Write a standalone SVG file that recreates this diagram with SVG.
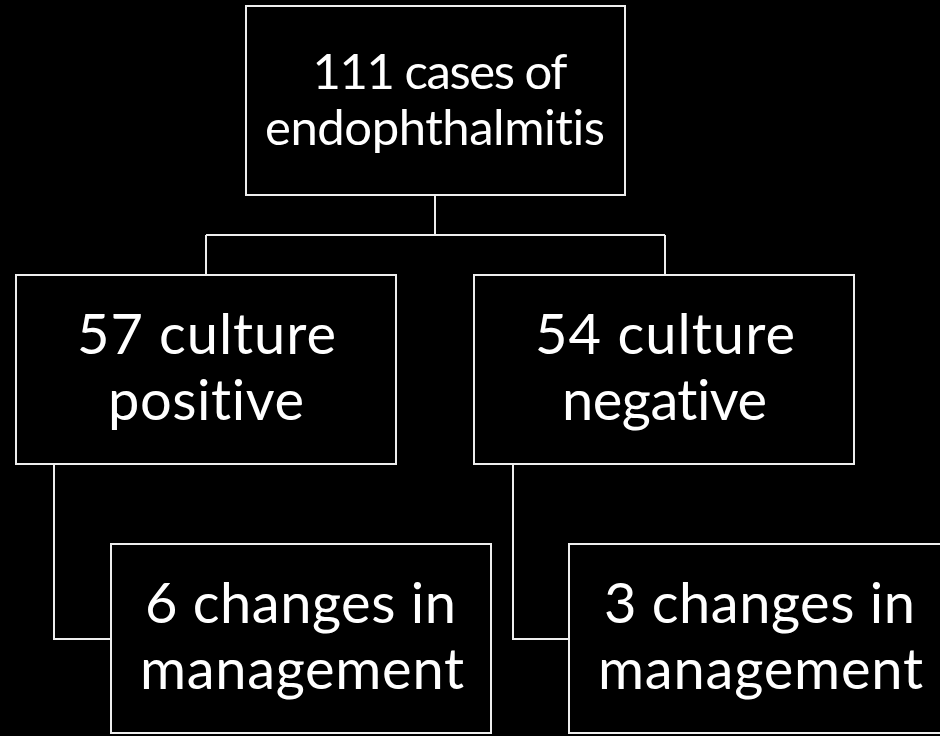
<svg xmlns="http://www.w3.org/2000/svg" width="940" height="736" viewBox="0 0 940 736">
<style>
.box{fill:#000;stroke:#eeeeee;stroke-width:2}
.conn{fill:none;stroke:#eeeeee;stroke-width:2}
.t{font-family:Lato,"Open Sans","Liberation Sans",sans-serif;fill:#fff;text-anchor:middle;font-variant-ligatures:none;font-feature-settings:"liga" 0,"clig" 0}
.s1{font-size:49px}
.s2{font-size:56px}
</style>
<rect width="940" height="736" fill="#000"/>
<g id="connectors">
<path class="conn" d="M435,195 V235 M206,235 H665 M206,235 V275 M665,235 V275"/>
<path class="conn" d="M54,464 V639 H111"/>
<path class="conn" d="M513,464 V639 H569"/>
</g>
<g id="n_total">
<rect class="box" x="246" y="6" width="379" height="189"/>
<text class="t s1" x="440" y="89" textLength="255">111 cases of</text>
<text class="t s1" x="435" y="145" textLength="340">endophthalmitis</text>
</g>
<g id="n_pos">
<rect class="box" x="16" y="275" width="380" height="189"/>
<text class="t s2" x="206.5" y="354" textLength="259">57 culture</text>
<text class="t s2" x="206" y="420" textLength="196">positive</text>
</g>
<g id="n_neg">
<rect class="box" x="474" y="275" width="380" height="189"/>
<text class="t s2" x="665" y="354" textLength="260">54 culture</text>
<text class="t s2" x="664.5" y="420" textLength="205">negative</text>
</g>
<g id="n_pos_changes">
<rect class="box" x="111" y="544" width="380" height="189"/>
<text class="t s2" x="300.5" y="623" textLength="311">6 changes in</text>
<text class="t s2" x="302" y="689" textLength="324">management</text>
</g>
<g id="n_neg_changes">
<rect class="box" x="569" y="544" width="382" height="189"/>
<text class="t s2" x="759.5" y="623" textLength="311">3 changes in</text>
<text class="t s2" x="760.5" y="689" textLength="325">management</text>
</g>
</svg>
